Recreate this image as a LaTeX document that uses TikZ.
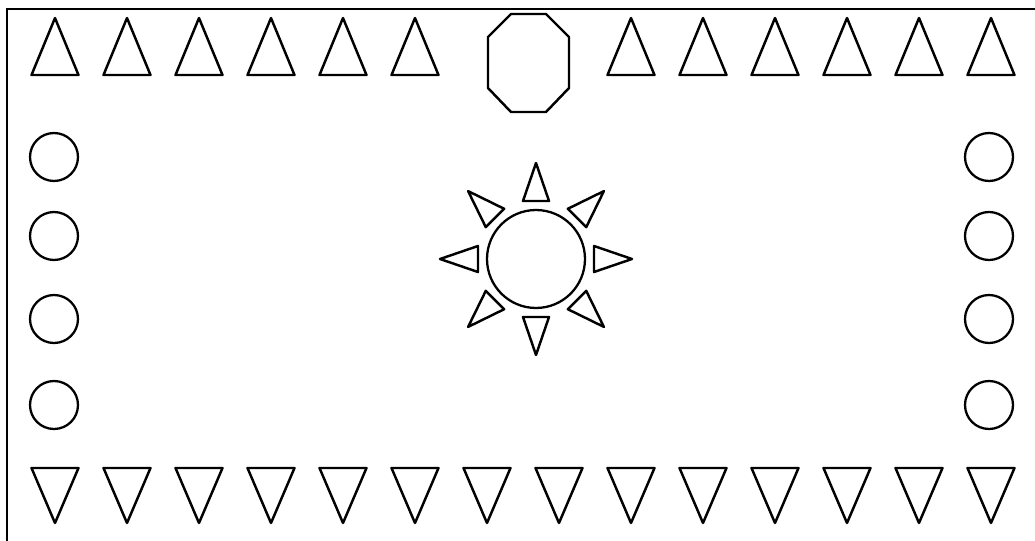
\documentclass[tikz,border=0pt]{standalone}
\usepackage{tikz}
\tikzset{
  frame/.style={line width=1.5pt},
  flag/.style={draw, line width=1.4pt, line join=round},
  ring/.style={circle, draw, line width=1.3pt, inner sep=0pt, minimum size=0.96cm},
  core/.style={circle, draw, line width=1.3pt, inner sep=0pt, minimum size=1.96cm},
}

\begin{document}
\begin{tikzpicture}[x=0.02cm, y=-0.02cm]
\useasboundingbox (0,0) rectangle (1035,541);
% border (left and top only)
\coordinate (tl) at (7,9);
\coordinate (tr) at (1035,9);
\coordinate (bl) at (7,541);
\draw[frame] (bl) -- (tl) -- (tr);
% top row of flags, the two middle places hold the octagon
\foreach \k in {0,...,5,8,9,...,13}
  \draw[flag] ({55+72*\k-23.5},75) -- ({55+72*\k},18) -- ({55+72*\k+23.5},75) -- cycle;
% bottom row
\foreach \k in {0,...,13}
  \draw[flag] ({55+72*\k-23.5},468) -- ({55+72*\k},523) -- ({55+72*\k+23.5},468) -- cycle;
% octagon
\draw[flag] (511,14) -- (546,14) -- (569,37) -- (569,88) -- (546,112)
  -- (511,112) -- (488,88) -- (488,37) -- cycle;
% side circles
\foreach \y [count=\i] in {157,236,319,405} {
  \node[ring] (l\i) at (54,\y) {};
  \node[ring] (r\i) at (989,\y) {};
}
% sun
\node[core] (sun) at (536,259) {};
\foreach \a in {0,45,...,315}
  \draw[flag, shift={(sun.center)}, rotate=\a] (58,-13) -- (96,0) -- (58,13) -- cycle;
\end{tikzpicture}
\end{document}
